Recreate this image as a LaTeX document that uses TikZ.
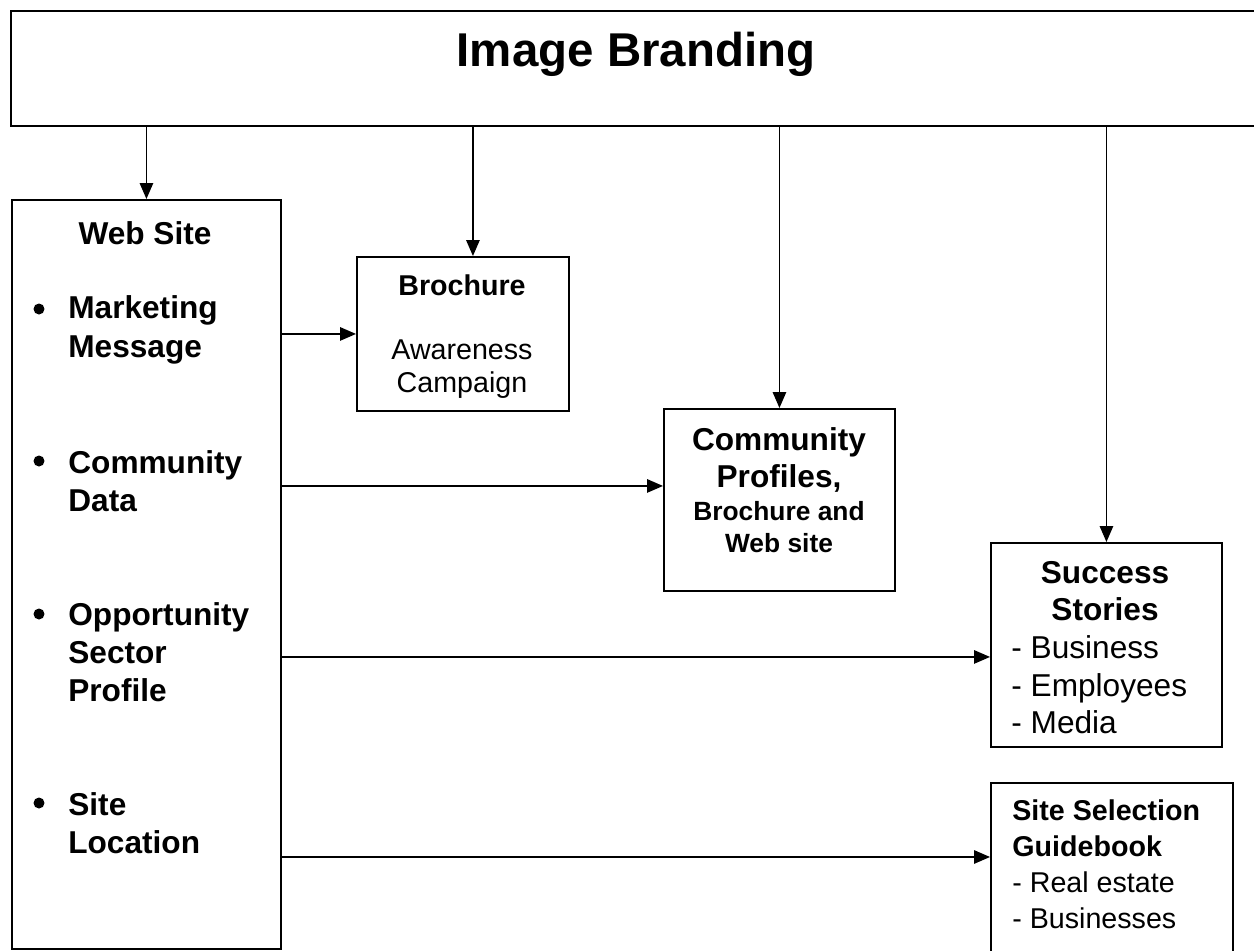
\documentclass[tikz,border=0pt]{standalone}
\usepackage{fontspec}
\setmainfont{Liberation Sans}
\usetikzlibrary{arrows.meta}

\tikzset{
  box/.style={draw,line width=1.1pt,anchor=north west,inner sep=0pt},
  dot/.style={circle,fill,inner sep=0pt,minimum size=0.22cm},
  head/.style={inner sep=0pt,align=center,font=\fontsize{18}{21.3}\selectfont\bfseries},
  item/.style={inner sep=0pt,align=left,anchor=west,font=\fontsize{18}{21.8}\selectfont\bfseries},
  small/.style={inner sep=0pt,align=center,font=\fontsize{16.3}{18.8}\selectfont},
  dashlist/.style={inner sep=0pt,align=left,anchor=west,font=\fontsize{18}{21.3}\selectfont}
}

\begin{document}
\begin{tikzpicture}[x=0.02cm,y=-0.02cm,>={Triangle[length=0.32cm,width=0.27cm]}]
    \useasboundingbox (0,0) rectangle (1254,950);
    \clip (0,0) rectangle (1254,950);

    \node[draw,line width=1.4pt,anchor=north west,inner sep=0pt,minimum width=25.4cm,minimum height=2.3cm] (brand) at (10,10) {};
    \node[inner sep=0pt,font=\fontsize{27}{32}\selectfont\bfseries] (title) at (636,54) {Image Branding};

    \node[box,minimum width=5.38cm,minimum height=14.98cm] (web) at (11,199) {};
    \node[head] (webhead) at (145,233) {Web Site};
    \node[dot] (d1) at (39,309) {};
    \node[item] (mkt) at (68,330) {Marketing\\Message};
    \node[dot] (d2) at (39,461) {};
    \node[item] (cdat) at (68,481) {Community\\Data};
    \node[dot] (d3) at (39,614) {};
    \node[item] (opp) at (68,652) {Opportunity\\Sector\\Profile};
    \node[dot] (d4) at (39,803) {};
    \node[item] (loc) at (68,823) {Site\\Location};

    \node[box,minimum width=4.24cm,minimum height=3.08cm] (bro) at (356,256) {};
    \node[small,font=\fontsize{16.3}{18.8}\selectfont\bfseries] (brohead) at (462,285) {Brochure};
    \node[small] (brotxt) at (462,369) {Awareness\\Campaign};

    \node[box,minimum width=4.62cm,minimum height=3.64cm] (cp) at (663,408) {};
    \node[head,font=\fontsize{18}{21}\selectfont\bfseries] (cphead) at (779,460) {Community\\Profiles,};
    \node[small,font=\fontsize{15}{18.2}\selectfont\bfseries] (cptxt) at (779,527) {Brochure and\\Web site};

    \node[box,minimum width=4.62cm,minimum height=4.08cm] (ss) at (990,542) {};
    \node[head] (sshead) at (1105,591) {Success\\Stories};
    \node[dashlist] (sslist) at (1011,685) {- Business\\- Employees\\- Media};

    \node[box,minimum width=4.84cm,minimum height=3.8cm] (ssg) at (990,782) {};
    \node[dashlist,font=\fontsize{16.3}{20.5}\selectfont] (ssgtxt) at (1012,864) {\textbf{Site Selection}\\\textbf{Guidebook}\\- Real estate\\- Businesses};

    \coordinate (broin) at ([xshift=0.2cm]bro.north);
    \coordinate (cpin) at ([yshift=0.28cm]cp.west);
    \coordinate (ssin) at ([yshift=-0.24cm]ss.west);
    \coordinate (ssgin) at ([yshift=-1.5cm]ssg.north west);

    \path[->,line width=0.8pt]
    (brand.south -| web.north) edge (web.north)
    (brand.south -| broin) edge (broin)
    (brand.south -| cp.north) edge (cp.north)
    (brand.south -| ss.north) edge (ss.north)
    (web.east |- bro.west) edge (bro.west)
    (web.east |- cpin) edge (cpin)
    (web.east |- ssin) edge (ssin)
    (web.east |- ssgin) edge (ssgin);
\end{tikzpicture}
\end{document}
